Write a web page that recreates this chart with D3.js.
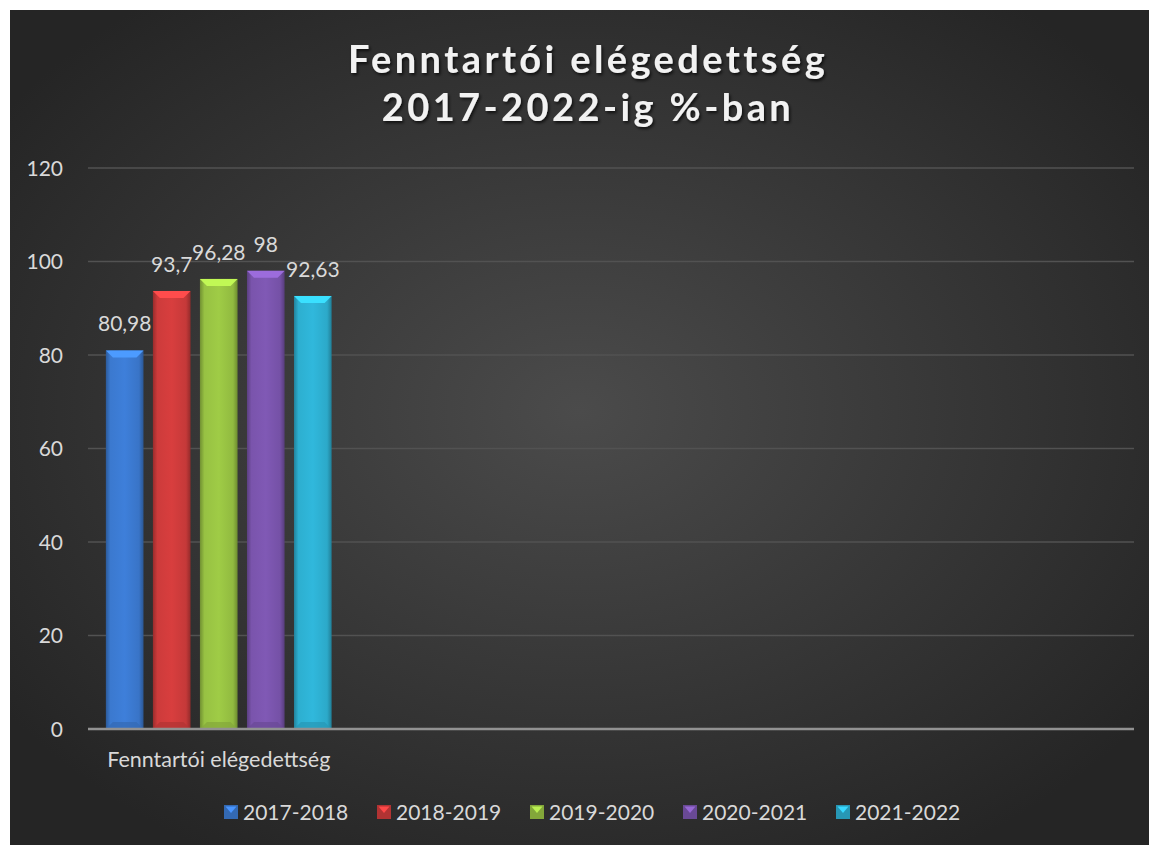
<!DOCTYPE html>
<html>
<head>
<meta charset="utf-8">
<script src="https://cdn.jsdelivr.net/npm/d3@7"></script>
<style>
  body { margin: 0; background: #ffffff; }
  svg { display: block; }
  text { font-family: Lato, "Open Sans", sans-serif; }
</style>
</head>
<body>
<script>
//////////////// Datas ////////////////////
// only the first category has data, the other three slots are empty
var categories = ["Fenntartói elégedettség", " ", "  ", "   "];
var series = ["2017-2018", "2018-2019", "2019-2020", "2020-2021", "2021-2022"];
var values = [80.98, 93.7, 96.28, 98, 92.63];
var valueLabels = ["80,98", "93,7", "96,28", "98", "92,63"];
var yTicks = [0, 20, 40, 60, 80, 100, 120];
var titleLines = ["Fenntartói elégedettség", "2017-2022-ig %-ban"];

var colors = ["#3d7dd6", "#d43d3d", "#9cc845", "#7e57b2", "#2fb5d8"];

var W = 1149, H = 845;
var plot = {left: 88, right: 1134, top: 168, bottom: 729};

//////////////// SVG ////////////////////
var svg = d3.select("body")
  .append("svg")
  .attr("width", W)
  .attr("height", H);

var defs = svg.append("defs");

// background: dark radial gradient
var bg = defs.append("radialGradient")
  .attr("id", "bg")
  .attr("cx", "50%").attr("cy", "48%").attr("r", "62%");
bg.append("stop").attr("offset", "0%").attr("stop-color", "#4b4b4b");
bg.append("stop").attr("offset", "100%").attr("stop-color", "#252525");

// bar gradients (darker edges, lighter middle)
colors.forEach(function(c, i) {
  var g = defs.append("linearGradient")
    .attr("id", "bar" + i)
    .attr("x1", "0%").attr("x2", "100%").attr("y1", "0%").attr("y2", "0%");
  var base = d3.color(c);
  g.append("stop").attr("offset", "0%").attr("stop-color", base.darker(0.9));
  g.append("stop").attr("offset", "12%").attr("stop-color", base.darker(0.1));
  g.append("stop").attr("offset", "50%").attr("stop-color", base.brighter(0.05));
  g.append("stop").attr("offset", "88%").attr("stop-color", base.darker(0.2));
  g.append("stop").attr("offset", "100%").attr("stop-color", base.darker(1));
});

var shadow = defs.append("filter").attr("id", "tshadow")
  .attr("x", "-10%").attr("y", "-20%").attr("width", "120%").attr("height", "150%");
shadow.append("feDropShadow")
  .attr("dx", 1.5).attr("dy", 2).attr("stdDeviation", 1.5)
  .attr("flood-color", "#000").attr("flood-opacity", 0.7);

svg.append("rect")
  .attr("x", 10).attr("y", 10)
  .attr("width", W - 10).attr("height", H - 10)
  .attr("fill", "url(#bg)");

////////////////// Scaling ////////////
var x0 = d3.scaleBand()
  .domain(categories)
  .range([plot.left, plot.right]);
var x1 = d3.scaleBand()
  .domain(series)
  .range([0, x0.bandwidth()])
  .paddingInner(0.2)
  .paddingOuter(0.38);
var y = d3.scaleLinear()
  .domain([0, 120])
  .range([plot.bottom, plot.top]);

//////////////// Title ////////////////
svg.append("g")
  .attr("filter", "url(#tshadow)")
  .selectAll("text.title")
  .data(titleLines)
  .enter()
  .append("text")
  .attr("class", "title")
  .attr("x", 588)
  .attr("y", function(d, i) { return 73 + i * 48; })
  .attr("text-anchor", "middle")
  .style("font-size", "38px")
  .style("font-weight", "bold")
  .style("letter-spacing", "3.4px")
  .attr("fill", "#f2f2f2")
  .text(function(d) { return d; });

//////////// Grid + Axen /////////////
svg.append("g")
  .selectAll("line.grid")
  .data(yTicks.filter(function(d) { return d > 0; }))
  .enter()
  .append("line")
  .attr("class", "grid")
  .attr("x1", plot.left).attr("x2", plot.right)
  .attr("y1", function(d) { return y(d); })
  .attr("y2", function(d) { return y(d); })
  .style("stroke", "#525252")
  .style("stroke-width", 1.5);

var yAxis = d3.axisLeft(y).tickValues(yTicks).tickSize(0).tickPadding(0);
svg.append("g")
  .attr("class", "y axis")
  .attr("transform", "translate(63,0)")
  .call(yAxis)
  .call(function(g) { g.select(".domain").remove(); })
  .selectAll("text")
    .attr("dy", "0.35em")
    .style("font-size", "21px")
    .style("font-family", "Lato, sans-serif")
    .attr("fill", "#d9d9d9");

var xAxis = d3.axisBottom(x0).tickSize(0).tickPadding(0);
svg.append("g")
  .attr("class", "x axis")
  .attr("transform", "translate(0," + (plot.bottom + 38) + ")")
  .call(xAxis)
  .call(function(g) { g.select(".domain").remove(); })
  .selectAll("text")
    .attr("y", 0).attr("dy", 0)
    .style("font-size", "21.5px")
    .style("font-family", "Lato, sans-serif")
    .attr("fill", "#d9d9d9");

//////////////// Balken ///////////////
var barData = series.map(function(s, i) {
  return {series: s, value: values[i], label: valueLabels[i], idx: i, cat: categories[0]};
});

var bars = svg.append("g").attr("class", "bars")
  .selectAll("g.bar")
  .data(barData)
  .enter()
  .append("g")
  .attr("class", "bar")
  .attr("transform", function(d) { return "translate(" + (x0(d.cat) + x1(d.series)) + ",0)"; });

bars.append("rect")
  .attr("x", 0)
  .attr("y", function(d) { return y(d.value); })
  .attr("width", x1.bandwidth())
  .attr("height", function(d) { return y(0) - y(d.value); })
  .attr("fill", function(d) { return "url(#bar" + d.idx + ")"; });

// top bevel
var bev = 7;
bars.append("path")
  .attr("d", function(d) {
    var t = y(d.value), w = x1.bandwidth();
    return "M0," + t + " L" + w + "," + t + " L" + (w - bev) + "," + (t + bev) +
      " L" + bev + "," + (t + bev) + " Z";
  })
  .attr("fill", function(d) { return d3.color(colors[d.idx]).brighter(0.6); });

// bottom shade
bars.append("path")
  .attr("d", function(d) {
    var b = y(0), w = x1.bandwidth();
    return "M0," + b + " L" + w + "," + b + " L" + (w - bev) + "," + (b - bev) +
      " L" + bev + "," + (b - bev) + " Z";
  })
  .attr("fill", function(d) { return d3.color(colors[d.idx]).darker(0.5); })
  .style("opacity", 0.7);

bars.append("text")
  .attr("x", x1.bandwidth() / 2)
  .attr("y", function(d) { return y(d.value) - 19; })
  .attr("text-anchor", "middle")
  .style("font-size", "21px")
  .attr("fill", "#d9d9d9")
  .text(function(d) { return d.label; });

// axis line at 0
svg.append("line")
  .attr("x1", plot.left).attr("x2", plot.right)
  .attr("y1", y(0)).attr("y2", y(0))
  .style("stroke", "#929292")
  .style("stroke-width", 2.5);

//////////////// Legende ///////////////
var legendX = [224, 377, 530, 683, 836];
var legend = svg.append("g").attr("class", "legend")
  .selectAll("g.item")
  .data(series)
  .enter()
  .append("g")
  .attr("class", "item")
  .attr("transform", function(d, i) { return "translate(" + legendX[i] + ",805)"; });

legend.append("rect")
  .attr("width", 14).attr("height", 14)
  .attr("fill", function(d, i) { return d3.color(colors[i]).darker(0.5); });
legend.append("path")
  .attr("d", "M1.5,1.5 L12.5,1.5 L7,8 Z")
  .attr("fill", function(d, i) { return d3.color(colors[i]).brighter(0.5); });

legend.append("text")
  .attr("x", 19)
  .attr("y", 14.5)
  .style("font-size", "21px")
  .attr("fill", "#d9d9d9")
  .text(function(d) { return d; });
</script>
</body>
</html>
